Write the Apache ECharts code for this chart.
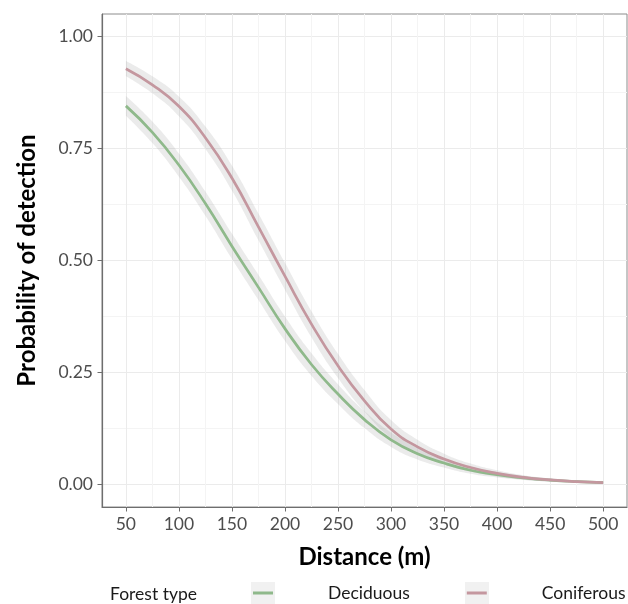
<!DOCTYPE html>
<html>
<head>
<meta charset="utf-8">
<script src="https://cdn.jsdelivr.net/npm/echarts@6/dist/echarts.min.js"></script>
<style>
html,body{margin:0;padding:0;background:#fff;}
#chart{width:628px;height:604px;}
</style>
</head>
<body>
<div id="chart"></div>
<script>
// Data
const distance = [50, 75, 100, 125, 150, 175, 200, 225, 250, 275, 300, 325, 350, 375, 400, 425, 450, 475, 500];
const deciduous = [0.845, 0.786, 0.713, 0.627, 0.532, 0.440, 0.348, 0.268, 0.202, 0.145, 0.100, 0.069, 0.048, 0.032, 0.022, 0.015, 0.010, 0.0068, 0.0046];
const coniferous = [0.928, 0.892, 0.844, 0.774, 0.684, 0.575, 0.465, 0.358, 0.265, 0.187, 0.124, 0.084, 0.057, 0.038, 0.025, 0.016, 0.0104, 0.0067, 0.0043];
const deciduousBand = [0.022, 0.024, 0.026, 0.027, 0.028, 0.028, 0.027, 0.025, 0.022, 0.019, 0.016, 0.013, 0.010, 0.008, 0.006, 0.0045, 0.0035, 0.0025, 0.002];
const coniferousBand = [0.017, 0.019, 0.022, 0.025, 0.028, 0.030, 0.030, 0.029, 0.027, 0.024, 0.020, 0.016, 0.012, 0.009, 0.007, 0.005, 0.0037, 0.0027, 0.002];
const seriesNames = ['Deciduous', 'Coniferous'];
const xTicks = [50, 100, 150, 200, 250, 300, 350, 400, 450, 500];
const xMinorTicks = [75, 125, 175, 225, 275, 325, 375, 425, 475];
const yTicks = [0, 0.25, 0.5, 0.75, 1];
const yMinorTicks = [0.125, 0.375, 0.625, 0.875];

const colors = ['#8fb98b', '#c4979f'];
const FONT = 'Lato';

const chart = echarts.init(document.getElementById('chart'), null, {renderer: 'canvas'});

function pairs(vals) { return distance.map((x, i) => [x, vals[i]]); }
// stacked band: data stored as [y, x] so that the stacked dimension is y
function bandSeries(vals, hw, key) {
  const common = {
    type: 'line', stack: key, silent: true, symbol: 'none', smooth: true,
    dimensions: [{name: 'yv', type: 'float'}, {name: 'xv', type: 'float'}],
    encode: {x: 'xv', y: 'yv'},
    lineStyle: {opacity: 0, width: 0}, z: 2
  };
  return [
    Object.assign({}, common, {data: distance.map((x, i) => [vals[i] - hw[i], x])}),
    Object.assign({}, common, {
      data: distance.map((x, i) => [2 * hw[i], x]),
      areaStyle: {color: '#999999', opacity: 0.2}
    })
  ];
}

const axisLabelStyle = {fontFamily: FONT, fontSize: 17.5, color: '#4d4d4d'};

const option = {
  animation: false,
  textStyle: {fontFamily: FONT},
  grid: {left: 102, right: 1, top: 14, bottom: 97, show: true, borderColor: '#8c8c8c', borderWidth: 1, containLabel: false},
  xAxis: [
    {
      type: 'value', min: 27.5, max: 522.5,
      name: 'Distance (m)', nameLocation: 'middle', nameGap: 38,
      nameTextStyle: {fontFamily: FONT, fontWeight: 'bold', fontSize: 24, color: '#000'},
      axisLine: {show: true, onZero: false, lineStyle: {color: '#6e6e6e', width: 1.2}},
      axisTick: {show: true, length: 4.5, customValues: xTicks, lineStyle: {color: '#6e6e6e'}},
      axisLabel: Object.assign({customValues: xTicks, margin: 8}, axisLabelStyle),
      splitLine: {show: true, lineStyle: {color: '#ebebeb', width: 1}}
    },
    {
      type: 'value', min: 27.5, max: 522.5, position: 'bottom',
      axisLine: {show: false},
      axisTick: {show: false, customValues: xMinorTicks},
      axisLabel: {show: false, customValues: xMinorTicks},
      splitLine: {show: true, lineStyle: {color: '#f4f4f4', width: 1}}
    }
  ],
  yAxis: [
    {
      type: 'value', min: -0.05, max: 1.05,
      name: 'Probability of detection', nameLocation: 'middle', nameGap: 63, nameRotate: 90,
      nameTextStyle: {fontFamily: FONT, fontWeight: 'bold', fontSize: 24, color: '#000'},
      axisLine: {show: true, onZero: false, lineStyle: {color: '#6e6e6e', width: 1.2}},
      axisTick: {show: true, length: 4.5, customValues: yTicks, lineStyle: {color: '#6e6e6e'}},
      axisLabel: Object.assign({customValues: yTicks, margin: 9, formatter: v => v.toFixed(2)}, axisLabelStyle),
      splitLine: {show: true, lineStyle: {color: '#ebebeb', width: 1}}
    },
    {
      type: 'value', min: -0.05, max: 1.05, position: 'left',
      axisLine: {show: false},
      axisTick: {show: false, customValues: yMinorTicks},
      axisLabel: {show: false, customValues: yMinorTicks},
      splitLine: {show: true, lineStyle: {color: '#f4f4f4', width: 1}}
    }
  ],
  legend: {
    data: seriesNames,
    left: 253, top: 584, padding: 0,
    itemWidth: 20, itemHeight: 3, itemGap: 57,
    icon: 'rect',
    selectedMode: false,
    textStyle: {fontFamily: FONT, fontSize: 17.5, color: '#1a1a1a', padding: [0, 0, 0, 50]}
  },
  graphic: [
    {type: 'rect', left: 251, top: 582, shape: {width: 24, height: 22}, style: {fill: '#f1f1f1'}, z: -1, silent: true},
    {type: 'rect', left: 465, top: 582, shape: {width: 24, height: 22}, style: {fill: '#f1f1f1'}, z: -1, silent: true},
    {type: 'text', left: 110, top: 585, style: {text: 'Forest type', fontFamily: FONT, fontSize: 17.5, fill: '#1a1a1a'}}
  ],
  series: [
    ...bandSeries(deciduous, deciduousBand, 'bandD'),
    ...bandSeries(coniferous, coniferousBand, 'bandC'),
    {
      name: seriesNames[0], type: 'line', data: pairs(deciduous), smooth: true, symbol: 'none',
      lineStyle: {color: colors[0], width: 2.7}, itemStyle: {color: colors[0]}, z: 3
    },
    {
      name: seriesNames[1], type: 'line', data: pairs(coniferous), smooth: true, symbol: 'none',
      lineStyle: {color: colors[1], width: 2.7}, itemStyle: {color: colors[1]}, z: 3
    }
  ]
};
chart.setOption(option);
</script>
</body>
</html>
